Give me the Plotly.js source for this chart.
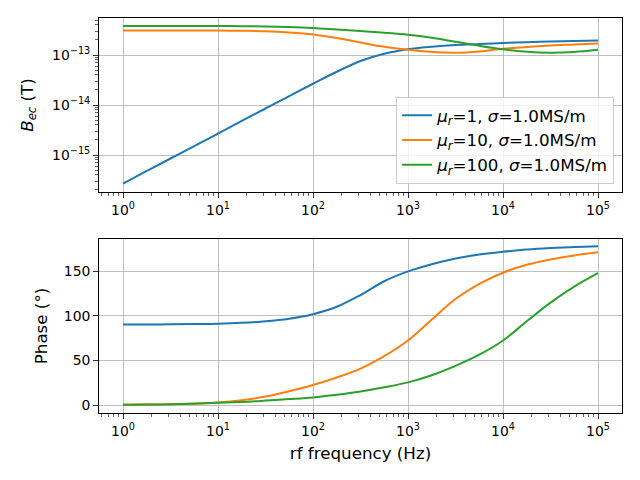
<!DOCTYPE html>
<html><head><meta charset="utf-8">
<script src="https://cdn.plot.ly/plotly-3.0.1.min.js"></script>
<style>html,body{margin:0;padding:0;background:#fff}</style>
</head><body><div id="chart" style="width:640px;height:480px"></div>
<script>
// rf frequency samples (Hz)
const freq = [1, 1.778, 3.162, 5.623, 10, 17.78, 31.62, 56.23, 100, 177.8, 316.2, 562.3, 1000, 1778, 3162, 5623, 10000, 17783, 31623, 56234, 100000];
// eddy-current field magnitude (T)
const bMu1   = [2.69e-16, 4.79e-16, 8.51e-16, 1.51e-15, 2.69e-15, 4.79e-15, 8.51e-15, 1.51e-14, 2.66e-14, 4.62e-14, 7.59e-14, 1.059e-13, 1.303e-13, 1.462e-13, 1.585e-13, 1.66e-13, 1.738e-13, 1.80e-13, 1.862e-13, 1.905e-13, 1.95e-13];
const bMu10  = [3.09e-13, 3.09e-13, 3.09e-13, 3.09e-13, 3.08e-13, 3.05e-13, 2.99e-13, 2.82e-13, 2.57e-13, 2.19e-13, 1.78e-13, 1.46e-13, 1.27e-13, 1.148e-13, 1.109e-13, 1.175e-13, 1.334e-13, 1.445e-13, 1.55e-13, 1.62e-13, 1.70e-13];
const bMu100 = [3.80e-13, 3.80e-13, 3.80e-13, 3.80e-13, 3.80e-13, 3.76e-13, 3.72e-13, 3.63e-13, 3.47e-13, 3.24e-13, 3.02e-13, 2.79e-13, 2.54e-13, 2.21e-13, 1.84e-13, 1.53e-13, 1.30e-13, 1.16e-13, 1.109e-13, 1.148e-13, 1.27e-13];
// phase (degrees)
const phMu1   = [90.3, 90.4, 90.6, 90.9, 91.3, 92.3, 94, 97, 102, 110.3, 123.5, 139, 150, 158, 164.5, 169, 172, 174.5, 176.2, 177.4, 178.2];
const phMu10  = [0.3, 0.6, 1, 1.8, 3, 5.5, 9.5, 15.5, 22.5, 31, 41, 55, 72.5, 96, 119, 136, 148.5, 157.5, 163.5, 168, 171.5];
const phMu100 = [0.3, 0.6, 1, 1.6, 2.5, 3.5, 5, 6.7, 8.6, 11.6, 15.3, 20, 25.5, 33.5, 44, 56.5, 72.5, 94, 115, 133, 148];
const seriesNames = [
  '<i>μ</i><sub><i>r</i></sub>=1, <i>σ</i>=1.0MS/m',
  '<i>μ</i><sub><i>r</i></sub>=10, <i>σ</i>=1.0MS/m',
  '<i>μ</i><sub><i>r</i></sub>=100, <i>σ</i>=1.0MS/m'
];
const xTickVals = [1, 10, 100, 1000, 10000, 100000];
const xTickText = ['10<sup>0</sup>','10<sup>1</sup>','10<sup>2</sup>','10<sup>3</sup>','10<sup>4</sup>','10<sup>5</sup>'];
const yTickVals = [1e-15, 1e-14, 1e-13];
const yTickText = ['10<sup>−15</sup>','10<sup>−14</sup>','10<sup>−13</sup>'];
const phTickVals = [0, 50, 100, 150];

const colors = ['#1f77b4', '#ff7f0e', '#2ca02c'];
const mags = [bMu1, bMu10, bMu100];
const phs = [phMu1, phMu10, phMu100];

function minorLog(lo, hi) {
  const out = [];
  for (let e = lo; e <= hi; e++) for (let d = 2; d <= 9; d++) out.push(d * Math.pow(10, e));
  return out;
}

const traces = [];
for (let i = 0; i < 3; i++) {
  traces.push({x: freq, y: mags[i], type: 'scatter', mode: 'lines', name: seriesNames[i],
    line: {color: colors[i], width: 2, shape: 'spline', smoothing: 1, simplify: false}, xaxis: 'x', yaxis: 'y', showlegend: true});
}
for (let i = 0; i < 3; i++) {
  traces.push({x: freq, y: phs[i], type: 'scatter', mode: 'lines', name: seriesNames[i],
    line: {color: colors[i], width: 2, shape: 'spline', smoothing: 1, simplify: false}, xaxis: 'x2', yaxis: 'y2', showlegend: false});
}

const tickFont = {family: 'DejaVu Sans', size: 13.9, color: '#000'};
const labelFont = {family: 'DejaVu Sans', size: 16.7, color: '#000'};
const common = {
  showline: true, mirror: true, linecolor: '#000', linewidth: 1,
  ticks: 'outside', ticklen: 4.9, tickwidth: 0.8, tickcolor: '#000',
  showgrid: true, gridcolor: '#b0b0b0', gridwidth: 0.8, zeroline: false,
  tickfont: tickFont
};
const xCommon = Object.assign({}, common, {
  type: 'log', range: [-0.2526, 5.2526], tickmode: 'array', tickvals: xTickVals, ticktext: xTickText,
  minor: {tickmode: 'array', tickvals: minorLog(-1, 5), ticks: 'outside', ticklen: 2.8, tickwidth: 0.6, tickcolor: '#000', showgrid: false}
});

const layout = {
  width: 640, height: 480,
  margin: {l: 99, r: 18, t: 18, b: 67},
  paper_bgcolor: '#fff', plot_bgcolor: '#fff',
  font: tickFont,
  xaxis: Object.assign({}, xCommon, {domain: [0, 1], anchor: 'y'}),
  yaxis: Object.assign({}, common, {
    domain: [0.5595, 1], anchor: 'x', type: 'log', range: [-15.74, -12.26],
    tickmode: 'array', tickvals: yTickVals, ticktext: yTickText,
    minor: {tickmode: 'array', tickvals: minorLog(-16, -13), ticks: 'outside', ticklen: 2.8, tickwidth: 0.6, tickcolor: '#000', showgrid: false},
    title: {text: '<i>B</i><sub><i>ec</i></sub> (T)', font: labelFont, standoff: 14}
  }),
  xaxis2: Object.assign({}, xCommon, {domain: [0, 1], anchor: 'y2',
    title: {text: 'rf frequency (Hz)', font: labelFont, standoff: 9}}),
  yaxis2: Object.assign({}, common, {
    domain: [0, 0.4405], anchor: 'x2', range: [-8.9, 186.4],
    tickmode: 'array', tickvals: phTickVals,
    title: {text: 'Phase (°)', font: labelFont, standoff: 11}
  }),
  legend: {x: 0.985, y: 0.58, xanchor: 'right', yanchor: 'bottom',
    bgcolor: 'rgba(255,255,255,0.8)', bordercolor: '#cccccc', borderwidth: 1,
    font: labelFont, tracegroupgap: 0},
  showlegend: true
};

Plotly.newPlot('chart', traces, layout, {staticPlot: true, displayModeBar: false});
</script>
</body></html>
